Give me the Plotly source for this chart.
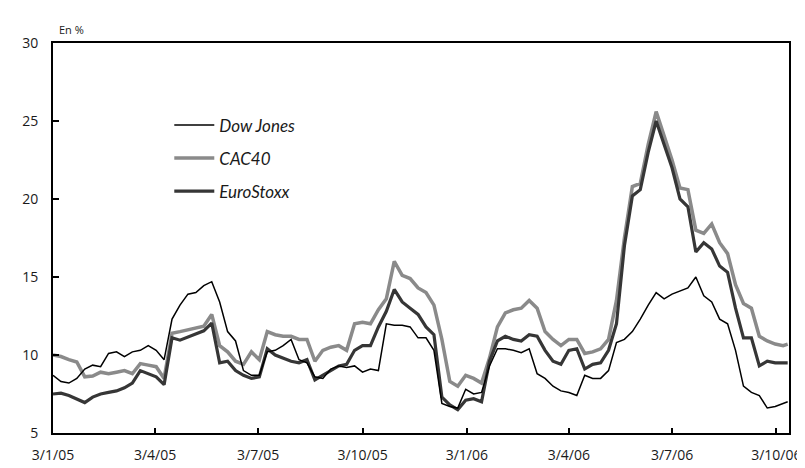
import pandas as pd
import plotly.graph_objects as go

# Weekly observations (Mondays) from 3 Jan 2005, plus the last point on 13 Oct 2006
dates = list(pd.date_range("2005-01-03", periods=93, freq="7D")) + [pd.Timestamp("2006-10-13")]

dow_jones = [
    8.7, 8.3, 8.2, 8.5, 9.1, 9.35, 9.25, 10.1, 10.2, 9.9,
    10.2, 10.3, 10.6, 10.3, 9.7, 12.3, 13.2, 13.9, 14.0, 14.45,
    14.7, 13.4, 11.5, 10.9, 9.0, 8.7, 8.7, 10.2, 10.3, 10.6,
    11.0, 9.7, 9.5, 8.6, 8.5, 9.1, 9.3, 9.2, 9.3, 8.9,
    9.1, 9.0, 12.0, 11.9, 11.9, 11.8, 11.1, 11.1, 10.3, 6.9,
    6.7, 6.6, 7.8, 7.5, 7.6, 9.3, 10.4, 10.4, 10.3, 10.15,
    10.4, 8.8, 8.5, 8.0, 7.7, 7.6, 7.4, 8.7, 8.5, 8.5,
    9.0, 10.8, 11.0, 11.5, 12.3, 13.2, 14.0, 13.6, 13.9, 14.1,
    14.3, 15.0, 13.8, 13.4, 12.3, 12.0, 10.3, 8.0, 7.6, 7.4,
    6.6, 6.7, 6.9, 7.0,
]

cac40 = [
    10.0, 9.9, 9.7, 9.55, 8.6, 8.65, 8.9, 8.8, 8.9, 9.0,
    8.8, 9.45, 9.35, 9.25, 8.5, 11.4, 11.5, 11.6, 11.7, 11.85,
    12.6, 10.6, 10.2, 9.6, 9.4, 10.2, 9.7, 11.5, 11.3, 11.2,
    11.2, 11.0, 11.0, 9.6, 10.3, 10.5, 10.6, 10.3, 12.0, 12.1,
    12.0, 12.9, 13.6, 16.0, 15.1, 14.9, 14.3, 14.0, 13.2, 11.0,
    8.3, 8.0, 8.7, 8.5, 8.2, 9.8, 11.8, 12.7, 12.9, 13.0,
    13.5, 13.0, 11.5, 11.0, 10.6, 11.0, 11.0, 10.1, 10.2, 10.4,
    11.0, 13.5, 17.5, 20.8, 21.0, 23.5, 25.6, 24.0, 22.5, 20.7,
    20.6, 18.0, 17.8, 18.4, 17.2, 16.5, 14.5, 13.3, 13.0, 11.2,
    10.9, 10.7, 10.6, 10.7,
]

eurostoxx = [
    7.5, 7.55, 7.4, 7.15, 6.95, 7.3, 7.5, 7.6, 7.7, 7.9,
    8.2, 9.0, 8.8, 8.6, 8.1, 11.1, 10.95, 11.15, 11.3, 11.55,
    12.05, 9.5, 9.6, 9.0, 8.7, 8.5, 8.6, 10.4, 10.0, 9.8,
    9.6, 9.5, 9.7, 8.4, 8.7, 9.0, 9.3, 9.4, 10.3, 10.6,
    10.6, 11.8, 12.8, 14.2, 13.4, 13.0, 12.6, 11.8, 11.3, 7.3,
    6.8, 6.5, 7.1, 7.2, 7.0, 9.6, 10.9, 11.2, 11.0, 10.9,
    11.3, 11.2, 10.3, 9.6, 9.4, 10.3, 10.4, 9.1, 9.4, 9.5,
    10.3, 12.0, 17.0, 20.2, 20.6, 23.0, 25.0, 23.5, 22.0, 20.0,
    19.5, 16.6, 17.2, 16.8, 15.7, 15.3, 13.0, 11.1, 11.1, 9.3,
    9.6, 9.5, 9.5, 9.5,
]

tick_dates = ["2005-01-03", "2005-04-03", "2005-07-03", "2005-10-03",
              "2006-01-03", "2006-04-03", "2006-07-03", "2006-10-03"]
tick_labels = ["3/1/05", "3/4/05", "3/7/05", "3/10/05",
               "3/1/06", "3/4/06", "3/7/06", "3/10/06"]

y_ticks = [5, 10, 15, 20, 25, 30]

FONT = "Open Sans"
LEG_FONT = "Lato"

fig = go.Figure()
fig.add_trace(go.Scatter(x=dates, y=cac40, name="CAC40", mode="lines",
                         line=dict(color="#8a8a8a", width=3.5),
                         legendrank=2, legendgroup="b"))
fig.add_trace(go.Scatter(x=dates, y=eurostoxx, name="EuroStoxx", mode="lines",
                         line=dict(color="#363636", width=3.2),
                         legendrank=3, legendgroup="c"))
fig.add_trace(go.Scatter(x=dates, y=dow_jones, name="Dow Jones", mode="lines",
                         line=dict(color="#000000", width=1.5),
                         legendrank=1, legendgroup="a"))

fig.update_layout(
    width=805, height=468,
    margin=dict(l=45, r=23, t=35, b=33),
    paper_bgcolor="white", plot_bgcolor="white",
    font=dict(family=FONT, size=14, color="#1a1a1a"),
    showlegend=True,
    legend=dict(
        x=0.158, y=0.835, xanchor="left", yanchor="top",
        bgcolor="rgba(0,0,0,0)",
        font=dict(family=LEG_FONT, size=17, style="italic", color="#1a1a1a"),
        itemwidth=40, tracegroupgap=8,
    ),
    xaxis=dict(
        type="date",
        range=["2005-01-03", "2006-10-14 04:00"],
        tickvals=tick_dates, ticktext=tick_labels,
        ticks="inside", ticklen=5, tickwidth=1.5, tickcolor="black",
        showline=True, linecolor="black", linewidth=2, mirror=True,
        showgrid=False, zeroline=False,
        ticklabelstandoff=8,
        tickfont=dict(family=FONT, size=14, color="#1a1a1a"),
    ),
    yaxis=dict(
        range=[5, 30],
        tickvals=y_ticks,
        ticks="inside", ticklen=6, tickwidth=1.5, tickcolor="black",
        showline=True, linecolor="black", linewidth=2, mirror=True,
        showgrid=False, zeroline=False,
        ticklabelstandoff=10,
        tickfont=dict(family=FONT, size=14, color="#1a1a1a"),
    ),
    annotations=[dict(
        text="En %", xref="paper", yref="paper", x=0, y=1,
        xanchor="left", yanchor="bottom", xshift=4, yshift=4,
        showarrow=False, font=dict(family=FONT, size=11, color="#1a1a1a"),
    )],
)

fig.write_html("out.html")
